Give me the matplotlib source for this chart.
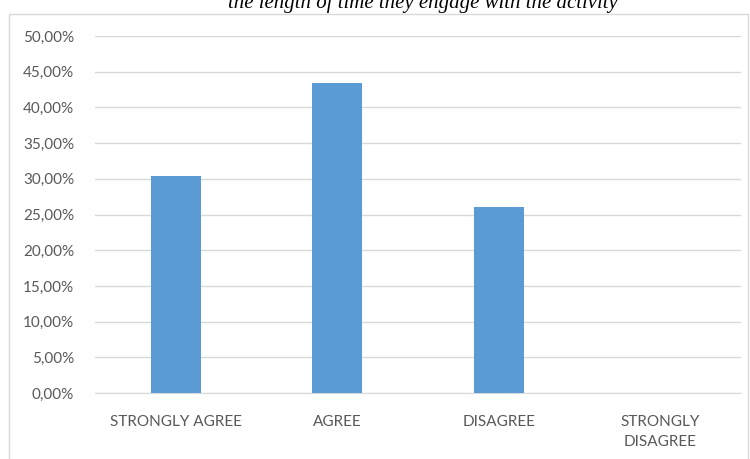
import matplotlib.pyplot as plt
from matplotlib.patches import Rectangle
from matplotlib.ticker import FuncFormatter

# Survey responses (share of respondents)
categories = ["STRONGLY AGREE", "AGREE", "DISAGREE", "STRONGLY\nDISAGREE"]
shares = [0.3043, 0.4348, 0.2609, 0.0]
title = "the length of time they engage with the activity"

fig = plt.figure(figsize=(7.5, 4.59), dpi=100)

# outer chart frame
fig.patches.append(Rectangle((9 / 750, -0.05), 739 / 750, 1.05 - 14 / 459,
                             transform=fig.transFigure, fill=False,
                             edgecolor="#d9d9d9", linewidth=1))

fig.text(423 / 750, 1 - 8 / 459, title, ha="center", va="baseline",
         fontsize=15, style="italic", family="Liberation Serif", color="#000000")

ax = fig.add_axes([95 / 750, 1 - 393 / 459, 646 / 750, 357 / 459])
x = range(len(categories))
ax.bar(x, shares, width=0.31, color="#5b9bd5", zorder=3)

ax.set_xlim(-0.5, len(categories) - 0.5)
ax.set_ylim(0, 0.5)
ax.set_yticks([i * 0.05 for i in range(11)])
ax.yaxis.set_major_formatter(FuncFormatter(lambda v, _: f"{v * 100:.2f}%".replace(".", ",")))
ax.set_xticks(list(x))
ax.set_xticklabels(categories, linespacing=1.55)

ax.grid(axis="y", color="#d9d9d9", linewidth=1, zorder=0)
for side in ["top", "right", "left"]:
    ax.spines[side].set_visible(False)
ax.spines["bottom"].set_color("#d9d9d9")
ax.tick_params(length=0, labelsize=11, labelcolor="#595959")
ax.tick_params(axis="y", pad=15)
ax.tick_params(axis="x", pad=16)
for lbl in ax.get_xticklabels() + ax.get_yticklabels():
    lbl.set_family("Lato")

fig.savefig("out.png", dpi=100)
